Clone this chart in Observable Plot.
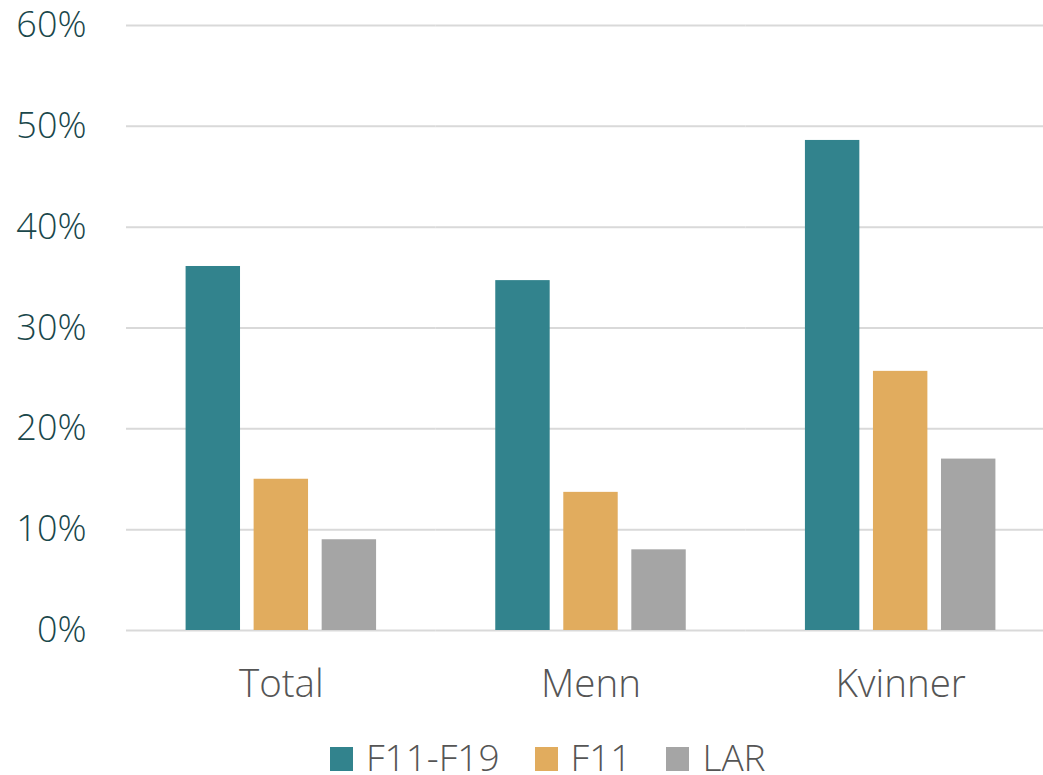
<!DOCTYPE html>
<html>
<head>
<meta charset="utf-8">
<script src="https://cdn.jsdelivr.net/npm/d3@7"></script>
<script src="https://cdn.jsdelivr.net/npm/@observablehq/plot@0.6"></script>
<style>
  html, body { margin: 0; padding: 0; background: #fff; }
  #wrap { position: relative; width: 1043px; height: 775px; overflow: hidden; font-family: "Open Sans", sans-serif; }
  #chart svg { display: block; }
  #legend {
    position: absolute; left: 330px; top: 740px;
    display: flex; align-items: flex-end; gap: 35px;
    font-size: 37px; font-weight: 300; color: #555; line-height: 34px;
  }
  #legend .item { display: flex; align-items: flex-end; }
  #legend .sw { width: 23px; height: 24px; margin-right: 13px; margin-bottom: 3px; }
</style>
</head>
<body>
<div id="wrap">
  <div id="chart"></div>
  <div id="legend"></div>
</div>
<script>
// Share of patients (%) by group and diagnosis category
const groups = ["Total", "Menn", "Kvinner"];
const series = ["F11-F19", "F11", "LAR"];
const f11f19 = [36.1, 34.7, 48.6];
const f11 = [15.0, 13.7, 25.7];
const lar = [9.0, 8.0, 17.0];
const colors = ["#32838d", "#e1ac5e", "#a5a5a5"];
const yTicks = [0, 10, 20, 30, 40, 50, 60];

const rows = groups.flatMap((g, i) => [
  {group: g, series: "F11-F19", value: f11f19[i]},
  {group: g, series: "F11", value: f11[i]},
  {group: g, series: "LAR", value: lar[i]}
]);

const chart = Plot.plot({
  width: 1043,
  height: 715,
  marginLeft: 126,
  marginRight: 0,
  marginTop: 25,
  marginBottom: 85,
  style: {background: "#fff", fontFamily: "Open Sans, sans-serif", overflow: "visible"},
  fx: {domain: groups, range: [126, 1055], padding: 0, round: false, label: null},
  x: {domain: series, paddingInner: 0.2, paddingOuter: 0.876, round: false, axis: null},
  y: {domain: [0, 60], label: null},
  color: {domain: series, range: colors},
  marks: [
    Plot.ruleY(yTicks, {stroke: "#d9d9d9", strokeWidth: 2}),
    Plot.barY(rows, {fx: "group", x: "series", y: "value", fill: "series"}),
    Plot.axisY(yTicks, {
      tickSize: 0, tickPadding: 40, tickFormat: d => d + "%",
      fontSize: 36, fontWeight: 300, fill: "#1a474b", label: null
    }),
    Plot.axisFx({
      anchor: "bottom", tickSize: 0, tickPadding: 39,
      fontSize: 38.5, fontWeight: 300, fill: "#555", label: null
    })
  ]
});
document.getElementById("chart").appendChild(chart);

// Legend built from the same series and colours
const legend = document.getElementById("legend");
series.forEach((s, i) => {
  const item = document.createElement("div");
  item.className = "item";
  const sw = document.createElement("span");
  sw.className = "sw";
  sw.style.background = colors[i];
  const label = document.createElement("span");
  label.textContent = s;
  item.appendChild(sw);
  item.appendChild(label);
  legend.appendChild(item);
});
</script>
</body>
</html>
